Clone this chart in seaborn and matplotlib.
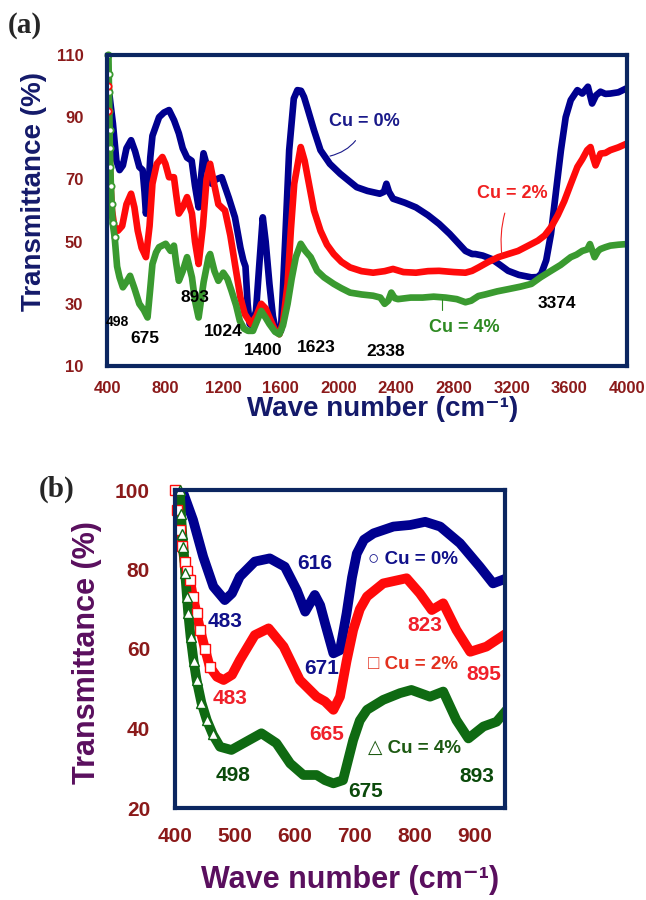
import matplotlib
matplotlib.use("Agg")
import matplotlib.pyplot as plt
import seaborn as sns

# ---- panel (a) data: full FTIR range ----
blue_a_x = [405, 420, 436, 460, 482, 505, 530, 562, 590, 619, 642, 655, 665, 680, 695, 710, 756, 790, 825,
            860, 893, 920, 950, 982, 1005, 1030, 1050, 1064, 1090, 1121, 1150, 1190, 1240, 1282, 1320, 1340,
            1355, 1370, 1384, 1400, 1428, 1450, 1475, 1495, 1521, 1545, 1567, 1601, 1630, 1658, 1690, 1715,
            1740, 1761, 1784, 1830, 1875, 1940, 2012, 2126, 2200, 2286, 2315, 2332, 2350, 2378, 2460, 2537,
            2620, 2697, 2770, 2834, 2880, 2926, 2948, 3000, 3062, 3120, 3176, 3250, 3337, 3380, 3405, 3440,
            3473, 3510, 3542, 3575, 3610, 3656, 3690, 3729, 3758, 3785, 3816, 3850, 3884, 3940, 3998]
blue_a_y = [100, 94, 88, 76, 73, 74.5, 80, 82.6, 79, 74, 73, 66, 59, 65, 77, 84, 90, 91.5, 92.3,
            89, 84.8, 80, 77, 76, 68, 61, 72, 78.4, 74, 68.6, 70, 70.7, 64, 57.8, 48, 44,
            42, 30, 23.5, 23, 27.7, 42, 57.8, 50, 36.4, 26, 21, 21.3, 50, 79.4, 96, 98.7,
            98.5, 96.5, 93, 85.8, 79.4, 75, 71.8, 67.5, 66.3, 65.4, 66, 68.6, 66, 63.8, 62.5, 61,
            58.5, 55.7, 52.5, 49.3, 47, 46, 46, 45.5, 44.4, 42.5, 40.6, 39.3, 38.5, 38.6, 39.6, 44,
            52.5, 67, 79.4, 90, 95.5, 98.7, 97.6, 99.8, 94.4, 97, 98.2, 97.5, 97.6, 98, 99.3]

red_a_x = [400, 405, 412, 420, 430, 445, 471, 500, 530, 562, 585, 608, 635, 665, 690, 710, 740, 779, 800,
           825, 859, 875, 893, 920, 950, 984, 1005, 1030, 1060, 1085, 1110, 1140, 1167, 1213, 1250, 1282,
           1320, 1350, 1395, 1430, 1464, 1495, 1521, 1560, 1590, 1615, 1647, 1670, 1693, 1738, 1765, 1795,
           1830, 1875, 1920, 1967, 2020, 2080, 2160, 2240, 2320, 2378, 2450, 2537, 2620, 2697, 2800, 2880,
           2926, 2971, 3040, 3108, 3176, 3245, 3320, 3382, 3430, 3473, 3520, 3565, 3610, 3656, 3690, 3724,
           3747, 3765, 3782, 3816, 3850, 3884, 3940, 3998]
red_a_y = [100, 92, 80, 68, 60, 55, 53.5, 55, 62, 65.4, 61, 53.5, 48, 45, 55, 68.6, 75, 77.2, 75,
           70.7, 70.7, 65, 59, 61, 64.3, 59, 50, 42.8, 55, 70, 75, 68, 62, 60, 52, 42.8,
           32, 26.7, 23.5, 26, 30, 28.5, 25.6, 21.5, 20.2, 24, 36.4, 54, 68.6, 80.4, 76, 68.6,
           60, 53.5, 49, 46, 43.5, 41.7, 40.5, 40, 40.5, 41.2, 40.2, 40, 40.5, 40.6, 40.2, 40,
           40.6, 41.7, 43.5, 45, 46, 47, 48.8, 50.3, 52, 54.6, 58.5, 63, 68.5, 74, 76.5, 79.4,
           80.4, 77, 74.5, 78.3, 78.5, 79.4, 80.3, 81.5]

green_a_x = [405, 407, 409, 411, 413, 415, 418, 422, 427, 434, 448, 465, 482, 505, 530, 555, 585, 619, 650,
             676, 695, 710, 735, 756, 802, 836, 859, 875, 893, 920, 950, 984, 1005, 1030, 1065, 1099, 1110,
             1140, 1167, 1201, 1230, 1258, 1290, 1316, 1345, 1373, 1407, 1435, 1464, 1495, 1521, 1560, 1590,
             1615, 1647, 1675, 1704, 1738, 1770, 1807, 1852, 1900, 1967, 2020, 2080, 2160, 2240, 2290, 2320,
             2345, 2366, 2390, 2412, 2500, 2583, 2660, 2743, 2820, 2880, 2920, 2970, 3017, 3100, 3176, 3260,
             3337, 3400, 3473, 3540, 3610, 3650, 3690, 3725, 3743, 3760, 3775, 3800, 3816, 3850, 3884, 3940,
             3998]
green_a_y = [110, 104, 98, 92, 86, 80, 74, 68, 62, 56, 51.4, 42, 38.5, 35.3, 37, 39, 35, 30, 28,
             25.6, 35, 42.8, 46.5, 48.2, 49.3, 47, 48.7, 43, 37.4, 40.5, 45, 38.5, 31, 25.6, 37, 45, 46,
             40.5, 37.4, 40, 38, 34.2, 29.5, 24.5, 22, 21.3, 21.3, 24.5, 27.7, 25.5, 23.5, 21, 20.2,
             23, 30, 38, 45, 49.3, 47, 45, 40.6, 38.5, 36.4, 35, 33.6, 33, 32.6, 32, 30,
             31, 33.6, 31.8, 31.5, 32, 32, 32.3, 32, 31.5, 30.5, 31, 32.5, 33, 34, 34.7, 35.5,
             36.4, 38.5, 40.6, 42.5, 45, 45.8, 47, 47.5, 49.2, 47, 45, 47, 47.6, 48.2, 48.7, 49,
             49.2]

peaks_a = ["498", "675", "893", "1024", "1400", "1623", "2338", "3374"]
peaks_a_x = [468, 660, 1003, 1202, 1475, 1845, 2325, 3517]
peaks_a_y = [24, 19, 32, 21, 15, 16, 14.8, 30]

# ---- panel (b) data: 400-950 zoom ----
blue_b_x = [414, 430, 447, 464, 483, 495, 508, 533, 558, 583, 603, 617, 625, 633, 642, 650, 664, 675, 686,
            695, 703, 715, 731, 764, 792, 817, 842, 875, 908, 930, 953]
blue_b_y = [99.2, 92.5, 83.2, 75.7, 72.3, 74, 78.2, 82, 82.8, 80.7, 74.8, 69.4, 71.5, 73.6, 71, 66.5, 58.9,
            59.7, 69, 78, 84, 87.5, 89.1, 90.8, 91.2, 92, 90.8, 86.6, 80.7, 76.5, 77.8]

red_b_x = [400, 404, 408, 412, 416, 420, 425, 430, 436, 442, 450, 458, 470, 481, 495, 508, 533, 556, 581,
           608, 636, 650, 664, 675, 686, 697, 708, 720, 747, 786, 808, 828, 847, 869, 892, 919, 953]
red_b_y = [100, 95, 90, 86, 82, 79.5, 77.4, 73, 69, 64.8, 60, 55.5, 53, 52.2, 53.5, 57.2, 63.5, 65.2, 60.6,
           52.2, 48, 46.8, 44.7, 48, 57, 64.8, 70, 73.2, 76.5, 77.8, 74, 69.8, 71.5, 64.8, 59.3, 60.6, 64]

green_b_x = [408, 410, 412, 414, 417, 420, 422, 426, 431, 436, 444, 453, 463, 475, 494, 519, 544, 569, 592,
             614, 636, 650, 664, 680, 697, 708, 720, 747, 775, 794, 825, 847, 869, 889, 914, 936, 953]
green_b_y = [100, 94, 89, 85.7, 79, 73, 69, 63, 57, 52.2, 46.5, 42.1, 38.5, 35.4, 34.6, 36.7, 38.8, 36.3,
             31.2, 28.3, 28.3, 27, 26.2, 27, 37.1, 42, 44.7, 47.2, 48.9, 49.7, 48, 49.3, 42.1, 37.5, 40.5,
             41.7, 44.7]

peaks_b = ["616", "483", "671", "483", "665", "823", "895", "498", "675", "893"]
peaks_b_x = [633, 483, 644, 492, 653, 817, 914, 497, 717, 903]
peaks_b_y = [81.6, 66.9, 55.2, 47.6, 38.4, 66, 53.5, 28.3, 24.1, 27.9]
peaks_b_c = ["#10108a"] * 3 + ["#f0202a"] * 4 + ["#0b4a0b"] * 3

NAVY = "#0b2660"
TICK = "#8b1a1a"
BLUE = "#00008f"
RED = "#ff0a0a"
GREEN_A = "#3a9a30"
GREEN_B = "#0f6a12"
FAM = ["Liberation Sans", "DejaVu Sans"]

sns.set_style("white")
plt.rcParams["font.family"] = FAM
plt.rcParams["font.weight"] = "bold"

fig = plt.figure(figsize=(6.46, 9.0), dpi=100)
ax1 = fig.add_axes([107 / 646, 1 - 366 / 900, 520 / 646, 311 / 900])
ax2 = fig.add_axes([175 / 646, 1 - 808 / 900, 330 / 646, 318 / 900])


def style_axis(ax, fs, ylen, xlen):
    for s in ax.spines.values():
        s.set_color(NAVY)
        s.set_linewidth(3)
    ax.tick_params(axis="y", direction="out", length=ylen, width=3, color=NAVY,
                   labelcolor=TICK, labelsize=fs, pad=5)
    ax.tick_params(axis="x", direction="out", length=xlen, width=3, color=NAVY,
                   labelcolor=TICK, labelsize=fs, pad=4)
    for lab in ax.get_xticklabels() + ax.get_yticklabels():
        lab.set_fontweight("bold")


# ---- panel (a) ----
sns.lineplot(x=blue_a_x, y=blue_a_y, ax=ax1, color=BLUE, lw=4.8, sort=False, estimator=None)
sns.lineplot(x=red_a_x, y=red_a_y, ax=ax1, color=RED, lw=4.8, sort=False, estimator=None)
sns.lineplot(x=green_a_x, y=green_a_y, ax=ax1, color=GREEN_A, lw=4.8, sort=False, estimator=None)
ax1.plot(green_a_x[:11], green_a_y[:11], ls="none", marker="o", ms=4.5, mfc="white", mec=GREEN_A, mew=1.3,
         clip_on=False)
ax1.plot(red_a_x[:2], red_a_y[:2], ls="none", marker="o", ms=4.5, mfc="white", mec=RED, mew=1.3)

ax1.set_xlim(395, 4000)
ax1.set_ylim(10, 110)
ax1.set_xticks(range(400, 4001, 400))
ax1.set_yticks(range(10, 111, 20))
style_axis(ax1, 12, 12, 7)
ax1.set_xlabel("Wave number (cm⁻¹)", fontsize=20, fontweight="bold", color="#141a6a")
ax1.set_ylabel("Transmittance (%)", fontsize=20, fontweight="bold", color="#141a6a")
ax1.xaxis.set_label_coords(0.53, -0.095)
ax1.yaxis.set_label_coords(-0.115, 0.56)

for t, x, y in zip(peaks_a, peaks_a_x, peaks_a_y):
    ax1.text(x, y, t, fontsize=10 if t == "498" else 12.5, fontweight="bold", color="black",
             ha="center", va="center")

ax1.annotate("Cu = 0%", xy=(1941, 77.5), xytext=(2180, 88.5), fontsize=13, fontweight="bold",
             color="#1a1a8a", ha="center", va="center",
             arrowprops=dict(arrowstyle="-", color="#1a1a8a", lw=0.8,
                             connectionstyle="arc3,rad=-0.3", shrinkA=6, shrinkB=0))
ax1.annotate("Cu = 2%", xy=(3133, 45.5), xytext=(3205, 65.5), fontsize=13, fontweight="bold",
             color="#f02020", ha="center", va="center",
             arrowprops=dict(arrowstyle="-", color="#f02020", lw=0.8,
                             connectionstyle="arc3,rad=0.15", shrinkA=6, shrinkB=0))
ax1.annotate("Cu = 4%", xy=(2715, 31.5), xytext=(2870, 22.3), fontsize=13, fontweight="bold",
             color="#2e8a22", ha="center", va="center",
             arrowprops=dict(arrowstyle="-", color="#2e8a22", lw=0.8,
                             connectionstyle="angle,angleA=0,angleB=90,rad=0", shrinkA=4, shrinkB=0))

# ---- panel (b) ----
sns.lineplot(x=blue_b_x, y=blue_b_y, ax=ax2, color=BLUE, lw=7, sort=False, estimator=None)
sns.lineplot(x=red_b_x, y=red_b_y, ax=ax2, color=RED, lw=7, sort=False, estimator=None)
sns.lineplot(x=green_b_x, y=green_b_y, ax=ax2, color=GREEN_B, lw=7, sort=False, estimator=None)
ax2.plot(red_b_x[:12], red_b_y[:12], ls="none", marker="s", ms=6.5, mfc="white", mec=RED, mew=1,
         clip_on=False)
ax2.plot(green_b_x[:13], green_b_y[:13], ls="none", marker="^", ms=6.5, mfc="white", mec=GREEN_B, mew=1,
         clip_on=False)

ax2.set_xlim(400, 950)
ax2.set_ylim(20, 100)
ax2.set_xticks(range(400, 901, 100))
ax2.set_yticks(range(20, 101, 20))
style_axis(ax2, 15, 13, 10)
ax2.set_xlabel("Wave number (cm⁻¹)", fontsize=22, fontweight="bold", color="#5a0f5e")
ax2.set_ylabel("Transmittance (%)", fontsize=22, fontweight="bold", color="#5a0f5e")
ax2.xaxis.set_label_coords(0.53, -0.18)
ax2.yaxis.set_label_coords(-0.22, 0.49)

for t, x, y, c in zip(peaks_b, peaks_b_x, peaks_b_y, peaks_b_c):
    ax2.text(x, y, t, fontsize=15, fontweight="bold", color=c, ha="center", va="center")

ax2.text(722, 82.4, "○ Cu = 0%", fontsize=13.5, fontweight="bold", color="#10108a", va="center")
ax2.text(722, 56, "□ Cu = 2%", fontsize=13.5, fontweight="bold", color="#e3301e", va="center")
ax2.text(722, 35, "△ Cu = 4%", fontsize=13.5, fontweight="bold", color="#1d5a12", va="center")

fig.text(0.012, 0.972, "(a)", fontsize=21, fontweight="bold", family=["Liberation Serif", "DejaVu Serif"],
         va="center")
fig.text(0.06, 0.456, "(b)", fontsize=21, fontweight="bold", family=["Liberation Serif", "DejaVu Serif"],
         va="center")

fig.savefig("out.png", dpi=100)
